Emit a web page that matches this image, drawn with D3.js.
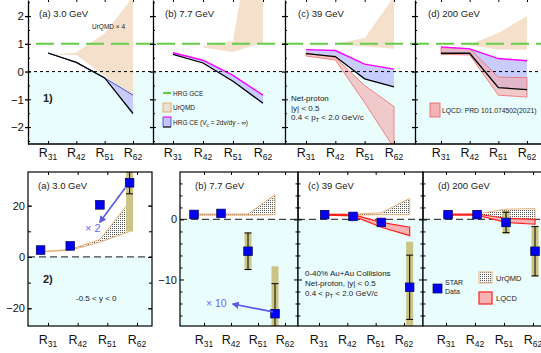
<!DOCTYPE html>
<html><head><meta charset="utf-8">
<script src="https://cdn.jsdelivr.net/npm/d3@7"></script>
<style>body{margin:0;background:#fff;} svg{display:block;font-family:"Liberation Sans",Arial,sans-serif;}</style>
</head><body><svg id="c" width="541" height="353"></svg>
<script>
// ---------- DATA ----------
const categories = ["31","42","51","62"];
const catIndex = [1,2,3,4];
const topTickValues = [-2,-1,0,1,2];
const topMinorTicks = [-2.5,-1.5,-0.5,0.5,1.5,2.5];
const hrgGCE = 1;
// HRG CE band (lower = black line, upper = magenta line)
const hrgLow_a = [0.67,0.33,-0.23,-1.51], hrgUp_a = [0.67,0.33,-0.23,-0.85];
const hrgLow_b = [0.62,0.31,-0.35,-1.14], hrgUp_b = [0.68,0.41,-0.14,-0.85];
const hrgLow_c = [0.65,0.54,-0.26,-0.55], hrgUp_c = [0.79,0.76,0.27,0.09];
const hrgLow_d = [0.66,0.66,-0.58,-0.65], hrgUp_d = [0.89,0.82,0.47,0.39];
// UrQMD (top row)
const urqmdTopUp_a = [0.62,0.69,1.38,2.7], urqmdTopLow_a = [0.62,0.6,-0.15,-0.86];
const urqmdTopUp_b = [null,0.92,1.1,7.4], urqmdTopLow_b = [null,0.87,0.71,1.05];
const urqmdTopUp_c = [null,1.0,1.21,2.7], urqmdTopLow_c = [null,0.98,0.9,0.82];
const urqmdTopUp_d = [null,0.98,1.39,2.0], urqmdTopLow_d = [null,0.95,0.8,0.8];
// LQCD (top row)
const lqcdTopUp_c = [0.68,0.5,-0.5,-1.26], lqcdTopLow_c = [0.56,0.42,-1.12,-2.75];
const lqcdTopUp_d = [0.86,0.83,-0.2,-0.22], lqcdTopLow_d = [0.62,0.6,-0.85,-0.92];
// Bottom row: STAR data
const star_a = [2.7,4.3,20.3,28.9], stat_a = [0,0,0,4.3], sys_a = [0,0,1.8,19];
const star_b = [0.83,1.0,-5.3,-15.7], stat_b = [0,0,3.05,5.0], sys_b = [0,0,3.1,7.9];
const star_c = [0.8,0.5,-0.5,-11.3], stat_c = [0,0,0,5.35], sys_c = [0,0,0,7.6];
const star_d = [0.8,0.8,-0.5,-5.3], stat_d = [0,0,1.7,4.1], sys_d = [0,0,1.95,4.25];
const urqmdBotUp_a = [2.1,2.9,6.8,21.5], urqmdBotLow_a = [2.0,2.6,5.8,9.9];
const urqmdBotUp_b = [0.9,0.9,0.9,4.1], urqmdBotLow_b = [0.7,0.7,0.7,0.8];
const urqmdBotUp_c = [0.9,0.9,1.1,3.5], urqmdBotLow_c = [0.7,0.7,0.8,0.8];
const urqmdBotUp_d = [null,0.9,1.7,1.8], urqmdBotLow_d = [null,0.8,0.0,-0.3];
const lqcdBotUp_c = [0.85,0.8,-0.5,-1.3], lqcdBotLow_c = [0.7,0.6,-1.3,-2.7];
const lqcdBotUp_d = [0.9,0.9,0.2,0.0], lqcdBotLow_d = [0.7,0.7,-0.5,-0.8];
const botTicksA = [-20,0,20], botMinorA = [-10,10];
const botTicksB = [-10,0], botMinorB = [-16,-14,-12,-8,-6,-4,-2,2,4,6];

// ---------- SETUP ----------
const svg = d3.select("#c");
const defs = svg.append("defs");
const pat = defs.append("pattern").attr("id","dots").attr("width",2).attr("height",2).attr("patternUnits","userSpaceOnUse");
pat.append("rect").attr("width",2).attr("height",2).attr("fill","#fff");
pat.append("rect").attr("width",1).attr("height",1).attr("fill","#555");
defs.append("marker").attr("id","arr").attr("viewBox","0 0 10 10").attr("refX",8).attr("refY",5)
  .attr("markerWidth",4.5).attr("markerHeight",4.5).attr("orient","auto")
  .append("path").attr("d","M0,0L10,5L0,10z").attr("fill","#5a5ae6");

const CYAN = "#eafdfd", TAN = "#f3dcc2", BLUE = "#c3c6ff", RED = "#f3a9a9";
const zip = (u,l) => catIndex.map((c,i)=>({i:c,u:u[i],l:l[i]}));
const fontTxt = (s,size,x,y,opt={}) => {
  const t = s.append("text").attr("x",x).attr("y",y).attr("font-size",size).attr("fill",opt.fill||"#222");
  if(opt.bold) t.attr("font-weight","bold");
  if(opt.anchor) t.attr("text-anchor",opt.anchor);
  return t;
};
function rLabel(g,x,y,sub,size){
  const t = g.append("text").attr("x",x).attr("y",y).attr("text-anchor","middle").attr("font-size",size).attr("fill","#111");
  t.append("tspan").text("R");
  t.append("tspan").attr("dy",3).attr("font-size",size*0.68).text(sub);
}
function styleAxis(g,w){ g.selectAll("path,line").attr("stroke","#000").attr("stroke-width",w||1); g.selectAll("text").attr("fill","#111"); }

// ---------- TOP ROW ----------
const topY = d3.scaleLinear().domain([-2.61,2.58]).range([144,0]);
const topLayout = [
 {x0:28,x1:153,c1:48,c4:133,title:"(a) 3.0 GeV",tx:39},
 {x0:153,x1:285,c1:173,c4:263,title:"(b) 7.7 GeV",tx:165},
 {x0:285,x1:415,c1:306,c4:394,title:"(c) 39 GeV",tx:298},
 {x0:415,x1:545,c1:441,c4:527,title:"(d) 200 GeV",tx:428}];
const topSeries = [
 {hl:hrgLow_a,hu:hrgUp_a,uu:urqmdTopUp_a,ul:urqmdTopLow_a,mag:false},
 {hl:hrgLow_b,hu:hrgUp_b,uu:urqmdTopUp_b,ul:urqmdTopLow_b,mag:true},
 {hl:hrgLow_c,hu:hrgUp_c,uu:urqmdTopUp_c,ul:urqmdTopLow_c,lu:lqcdTopUp_c,ll:lqcdTopLow_c,mag:true},
 {hl:hrgLow_d,hu:hrgUp_d,uu:urqmdTopUp_d,ul:urqmdTopLow_d,lu:lqcdTopUp_d,ll:lqcdTopLow_d,mag:true}];

topLayout.forEach((L,k)=>{
  const S = topSeries[k];
  const x = d3.scaleLinear().domain([1,4]).range([L.c1,L.c4]);
  const clipId = "ct"+k;
  defs.append("clipPath").attr("id",clipId).append("rect").attr("x",L.x0).attr("y",-1).attr("width",L.x1-L.x0).attr("height",145);
  const g = svg.append("g");
  const pg = g.append("g").attr("clip-path",`url(#${clipId})`);
  pg.append("rect").attr("x",L.x0).attr("y",topY(0)).attr("width",L.x1-L.x0).attr("height",144-topY(0)).attr("fill",CYAN);
  const area = d3.area().defined(d=>d.u!=null&&d.l!=null).x(d=>x(d.i)).y0(d=>topY(d.l)).y1(d=>topY(d.u));
  const line = d3.line().x(d=>x(d.i)).y(d=>topY(d.v));
  pg.append("path").attr("d",area(zip(S.uu,S.ul))).attr("fill",TAN).attr("opacity",0.85);
  pg.append("path").attr("d",area(zip(S.hu,S.hl))).attr("fill",BLUE).attr("opacity",0.9);
  if(S.lu){
    pg.append("path").attr("d",area(zip(S.lu,S.ll))).attr("fill",RED).attr("fill-opacity",0.6).attr("stroke","#f06a6a").attr("stroke-width",0.8);
  }
  pg.append("path").attr("d",line(S.hu.map((v,i)=>({i:catIndex[i],v})))).attr("fill","none")
    .attr("stroke",S.mag?"#ff00ff":"#3a3acc").attr("stroke-width",S.mag?1.4:0.9);
  pg.append("path").attr("d",line(S.hl.map((v,i)=>({i:catIndex[i],v})))).attr("fill","none").attr("stroke","#000").attr("stroke-width",1.3);
  pg.append("line").attr("x1",L.x0).attr("x2",L.x1).attr("y1",topY(hrgGCE)).attr("y2",topY(hrgGCE))
    .attr("stroke","#66cc4a").attr("stroke-width",2).attr("stroke-dasharray","18,7").attr("stroke-dashoffset",k*4-8);
  pg.append("line").attr("x1",L.x0).attr("x2",L.x1).attr("y1",topY(0)).attr("y2",topY(0))
    .attr("stroke","#000").attr("stroke-width",1).attr("stroke-dasharray","3,3");
  // axes
  const ga = g.append("g").attr("transform",`translate(${L.x0},0)`)
    .call(d3.axisLeft(topY).tickValues(topTickValues).tickSize(3).tickSizeOuter(0).tickPadding(1)
      .tickFormat(k===0?d3.format("d"):""));
  ga.selectAll("text").attr("font-size",11.5).attr("font-family","Liberation Sans, Arial, sans-serif");
  styleAxis(ga,1.3);
  const gi = g.append("g").attr("transform",`translate(${L.x0},0)`)
    .call(d3.axisRight(topY).tickValues(topTickValues).tickSize(3).tickFormat(""));
  gi.select(".domain").remove(); styleAxis(gi);
  const gm = g.append("g").attr("transform",`translate(${L.x0},0)`)
    .call(d3.axisRight(topY).tickValues(topMinorTicks).tickSize(2).tickFormat(""));
  gm.select(".domain").remove(); styleAxis(gm);
  const gb = g.append("g").attr("transform","translate(0,144)").call(d3.axisTop(x).tickValues(catIndex).tickSize(3).tickFormat(""));
  gb.select(".domain").remove(); styleAxis(gb);
  const gt = g.append("g").attr("transform","translate(0,-1)").call(d3.axisBottom(x).tickValues(catIndex).tickSize(3).tickFormat(""));
  gt.select(".domain").remove(); styleAxis(gt);
  catIndex.forEach((c,i)=>rLabel(g,x(c),157,categories[i],12.5));
  fontTxt(g,9.5,L.tx,17).text(L.title);
});
svg.append("line").attr("x1",28).attr("x2",541).attr("y1",144).attr("y2",144).attr("stroke","#000").attr("stroke-width",1.3);

// top annotations
fontTxt(svg,6.5,92,29).text("UrQMD × 4");
fontTxt(svg,11,43,102,{bold:true}).text("1)");
// legend (b)
svg.append("line").attr("x1",163).attr("x2",171).attr("y1",93).attr("y2",93).attr("stroke","#66cc4a").attr("stroke-width",2);
fontTxt(svg,6.5,173,95.5).text("HRG GCE");
svg.append("rect").attr("x",163).attr("y",103).attr("width",8).attr("height",9).attr("fill","#ece2d2").attr("stroke","#e3ad72").attr("stroke-width",1);
fontTxt(svg,6.5,173,110).text("UrQMD");
svg.append("rect").attr("x",163).attr("y",117).attr("width",8).attr("height",10).attr("fill",BLUE);
svg.append("line").attr("x1",163).attr("x2",171).attr("y1",117).attr("y2",117).attr("stroke","#ff00ff").attr("stroke-width",1.2);
svg.append("line").attr("x1",163).attr("x2",171).attr("y1",127).attr("y2",127).attr("stroke","#000").attr("stroke-width",1.2);
svg.append("line").attr("x1",163).attr("x2",163).attr("y1",117).attr("y2",127).attr("stroke","#3a3acc").attr("stroke-width",0.8);
svg.append("line").attr("x1",171).attr("x2",171).attr("y1",117).attr("y2",127).attr("stroke","#3a3acc").attr("stroke-width",0.8);
{
  const t = fontTxt(svg,6.5,173,125);
  t.append("tspan").text("HRG CE (V");
  t.append("tspan").attr("dy",1.5).attr("font-size",4.5).text("c");
  t.append("tspan").attr("dy",-1.5).text(" = 2dv/dy - ∞)");
}
// text (c)
fontTxt(svg,8,291,101).text("Net-proton");
fontTxt(svg,8,291,111).text("|y| < 0.5");
{
  const t = fontTxt(svg,8,291,120);
  t.append("tspan").text("0.4 < p");
  t.append("tspan").attr("dy",2).attr("font-size",5.5).text("T");
  t.append("tspan").attr("dy",-2).text(" < 2.0 GeV/c");
}
// legend (d)
svg.append("rect").attr("x",430).attr("y",103).attr("width",10).attr("height",14).attr("fill","#f4b4b4").attr("stroke","#f06a6a").attr("stroke-width",0.9);
fontTxt(svg,6.8,442,112.5).text("LQCD: PRD 101.074502(2021)");

// ---------- BOTTOM ROW ----------
const yBotA = d3.scaleLinear().domain([-26.9,33.1]).range([326,172]);
const yBotB = d3.scaleLinear().domain([-17.75,7.9]).range([326,172]);
const botLayout = [
 {x0:28,x1:152,t1:48,t4:137,shift:-0.25,y:yBotA,title:"(a) 3.0 GeV",tx:38,labels:true,major:botTicksA,minor:botTicksA.concat(botMinorA),minorSize:3},
 {x0:180,x1:298,t1:204,t4:285,shift:-0.37,y:yBotB,title:"(b) 7.7 GeV",tx:195,labels:true,major:botTicksB,minor:botMinorB,minorSize:2.5},
 {x0:298,x1:423,t1:319,t4:404,shift:0.2,y:yBotB,title:"(c) 39 GeV",tx:308,labels:false,major:botTicksB,minor:botMinorB,minorSize:2.5},
 {x0:423,x1:548,t1:446,t4:533,shift:0.07,y:yBotB,title:"(d) 200 GeV",tx:438,labels:false,major:botTicksB,minor:botMinorB,minorSize:2.5}];
const botSeries = [
 {v:star_a,st:stat_a,sy:sys_a,uu:urqmdBotUp_a,ul:urqmdBotLow_a},
 {v:star_b,st:stat_b,sy:sys_b,uu:urqmdBotUp_b,ul:urqmdBotLow_b},
 {v:star_c,st:stat_c,sy:sys_c,uu:urqmdBotUp_c,ul:urqmdBotLow_c,lu:lqcdBotUp_c,ll:lqcdBotLow_c},
 {v:star_d,st:stat_d,sy:sys_d,uu:urqmdBotUp_d,ul:urqmdBotLow_d,lu:lqcdBotUp_d,ll:lqcdBotLow_d}];
const botX = [];
botLayout.forEach((L,k)=>{
  const S = botSeries[k], y = L.y;
  const x = d3.scaleLinear().domain([1,4]).range([L.t1,L.t4]);
  botX.push(x);
  const xd = c => x(c + L.shift);
  const clipId = "cb"+k;
  defs.append("clipPath").attr("id",clipId).append("rect").attr("x",L.x0).attr("y",172).attr("width",L.x1-L.x0).attr("height",154);
  const g = svg.append("g");
  const pg = g.append("g").attr("clip-path",`url(#${clipId})`);
  pg.append("rect").attr("x",L.x0).attr("y",y(0)).attr("width",L.x1-L.x0).attr("height",326-y(0)).attr("fill",CYAN);
  pg.append("line").attr("x1",L.x0).attr("x2",L.x1).attr("y1",y(0)).attr("y2",y(0))
    .attr("stroke","#444").attr("stroke-width",1.2).attr("stroke-dasharray","7,4");
  const area = d3.area().defined(d=>d.u!=null&&d.l!=null).x(d=>xd(d.i)).y0(d=>y(d.l)).y1(d=>y(d.u));
  pg.append("path").attr("d",area(zip(S.uu,S.ul))).attr("fill","url(#dots)").attr("stroke","#e8b07a").attr("stroke-width",1);
  if(S.lu){
    pg.append("path").attr("d",area(zip(S.lu,S.ll))).attr("fill","#f7b3b3").attr("stroke","#ff1f1f").attr("stroke-width",1.2);
  }
  const pts = catIndex.map((c,i)=>({i:c,v:S.v[i],st:S.st[i],sy:S.sy[i]}));
  pg.selectAll(".sys").data(pts.filter(d=>d.sy>0)).join("rect")
    .attr("x",d=>xd(d.i)-3.5).attr("width",7)
    .attr("y",d=>y(d.v+d.sy)).attr("height",d=>y(d.v-d.sy)-y(d.v+d.sy)).attr("fill","#cbc585");
  const eb = pg.selectAll(".eb").data(pts.filter(d=>d.st>0)).join("g");
  eb.append("line").attr("x1",d=>xd(d.i)).attr("x2",d=>xd(d.i)).attr("y1",d=>y(d.v+d.st)).attr("y2",d=>y(d.v-d.st)).attr("stroke","#000").attr("stroke-width",1);
  eb.append("line").attr("x1",d=>xd(d.i)-3.5).attr("x2",d=>xd(d.i)+3.5).attr("y1",d=>y(d.v+d.st)).attr("y2",d=>y(d.v+d.st)).attr("stroke","#000").attr("stroke-width",1);
  eb.append("line").attr("x1",d=>xd(d.i)-3.5).attr("x2",d=>xd(d.i)+3.5).attr("y1",d=>y(d.v-d.st)).attr("y2",d=>y(d.v-d.st)).attr("stroke","#000").attr("stroke-width",1);
  pg.selectAll(".mk").data(pts).join("rect")
    .attr("x",d=>xd(d.i)-4.3).attr("y",d=>y(d.v)-4.3).attr("width",8.6).attr("height",8.6)
    .attr("fill","#0000f5").attr("stroke","#000055").attr("stroke-width",0.7);
  // frame & axes
  g.append("rect").attr("x",L.x0).attr("y",172).attr("width",L.x1-L.x0).attr("height",154).attr("fill","none").attr("stroke","#000").attr("stroke-width",1.2);
  if(L.labels){
    const ga = g.append("g").attr("transform",`translate(${L.x0},0)`)
      .call(d3.axisLeft(y).tickValues(L.major).tickSize(0).tickPadding(3).tickFormat(d3.format("d")));
    ga.select(".domain").remove();
    ga.selectAll("text").attr("font-size",11).attr("fill","#111");
  }
  [L.x0, L.x1].forEach((xx,side)=>{
    const mk = side===0 ? d3.axisRight : d3.axisLeft;
    const a1 = g.append("g").attr("transform",`translate(${xx},0)`).call(mk(y).tickValues(L.major).tickSize(4).tickFormat(""));
    a1.select(".domain").remove(); styleAxis(a1);
    const a2 = g.append("g").attr("transform",`translate(${xx},0)`).call(mk(y).tickValues(L.minor).tickSize(L.minorSize).tickFormat(""));
    a2.select(".domain").remove(); styleAxis(a2);
  });
  const gb = g.append("g").attr("transform","translate(0,326)").call(d3.axisTop(x).tickValues(catIndex).tickSize(3).tickFormat(""));
  gb.select(".domain").remove(); styleAxis(gb);
  const gt = g.append("g").attr("transform","translate(0,172)").call(d3.axisBottom(x).tickValues(catIndex).tickSize(3).tickFormat(""));
  gt.select(".domain").remove(); styleAxis(gt);
  catIndex.forEach((c,i)=>rLabel(g,x(c),344,categories[i],12.5));
  fontTxt(g,9.5,L.tx,189).text(L.title);
});

// bottom annotations
fontTxt(svg,11,43,283,{bold:true}).text("2)");
fontTxt(svg,8,76,301).text("-0.5 < y < 0");
svg.append("line").attr("x1",botX[0](3.6)).attr("y1",yBotA(26.9)).attr("x2",botX[0](2.75)).attr("y2",yBotA(13.6))
  .attr("stroke","#5a5ae6").attr("stroke-width",1.6).attr("marker-end","url(#arr)");
fontTxt(svg,11,botX[0](2.25),yBotA(9.7),{fill:"#6a6ae8"}).text("× 2");
svg.append("line").attr("x1",botX[1](3.56)).attr("y1",yBotB(-15.4)).attr("x2",botX[1](2.07)).attr("y2",yBotB(-14.1))
  .attr("stroke","#5a5ae6").attr("stroke-width",1.6).attr("marker-end","url(#arr)");
fontTxt(svg,10.5,botX[1](1.07),yBotB(-14.6),{fill:"#6a6ae8"}).text("× 10");
fontTxt(svg,8,305,276).text("0-40% Au+Au Collisions");
fontTxt(svg,8,305,286).text("Net-proton, |y| < 0.5");
{
  const t = fontTxt(svg,8,305,296);
  t.append("tspan").text("0.4 < p");
  t.append("tspan").attr("dy",2).attr("font-size",5.5).text("T");
  t.append("tspan").attr("dy",-2).text(" < 2.0 GeV/c");
}
svg.append("rect").attr("x",433).attr("y",284).attr("width",9).attr("height",9).attr("fill","#0000f5").attr("stroke","#000055").attr("stroke-width",0.7);
fontTxt(svg,7,445,285).text("STAR");
fontTxt(svg,7,445,294).text("Data");
svg.append("rect").attr("x",479).attr("y",272).attr("width",13).attr("height",11).attr("fill","url(#dots)").attr("stroke","#e8b07a").attr("stroke-width",1);
fontTxt(svg,7.5,496,281).text("UrQMD");
svg.append("rect").attr("x",479).attr("y",292).attr("width",13).attr("height",12).attr("fill","#f7b3b3").attr("stroke","#ff1f1f").attr("stroke-width",1.2);
fontTxt(svg,7.5,496,301).text("LQCD");
</script></body></html>
